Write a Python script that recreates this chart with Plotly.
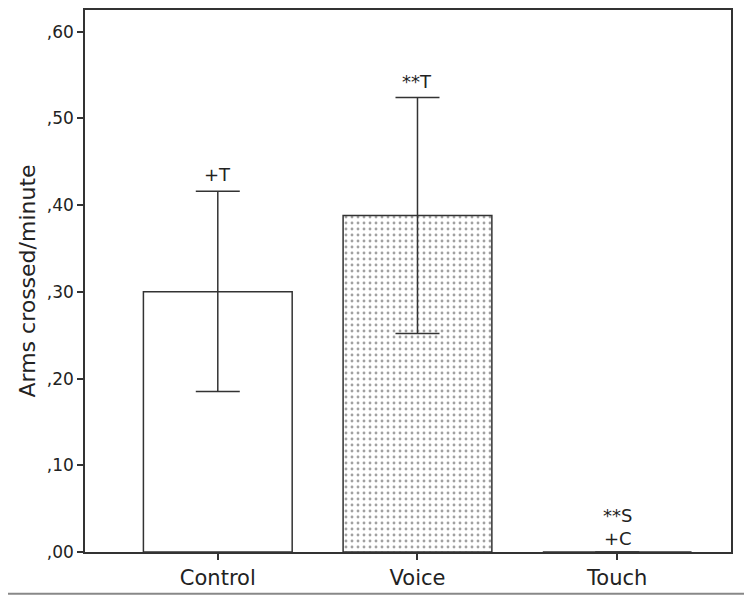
import plotly.graph_objects as go

categories = ["Control", "Voice", "Touch"]
means = [0.300, 0.388, 0.0]
err_plus = [0.116, 0.136, 0.0]
err_minus = [0.115, 0.136, 0.0]
sig_labels = ["+T", "**T", "**S<br>+C"]
tick_vals = [0.0, 0.1, 0.2, 0.3, 0.4, 0.5, 0.6]
tick_text = [",00", ",10", ",20", ",30", ",40", ",50", ",60"]

FONT = "DejaVu Sans"
fills = ["white", "white", "white"]
patterns = ["", ".", ""]

fig = go.Figure()
fig.add_trace(go.Bar(
    x=[0, 1, 2], y=means, width=0.745,
    marker=dict(color=fills, line=dict(color="#333333", width=1.5),
                pattern=dict(shape=patterns, fgcolor="#8a8a8a", bgcolor="white",
                             size=6, solidity=0.18)),
    error_y=dict(type="data", symmetric=False, array=err_plus, arrayminus=err_minus,
                 color="#333333", thickness=1.5, width=22),
    showlegend=False,
))

for i, (lab, m, e) in enumerate(zip(sig_labels, means, err_plus)):
    fig.add_annotation(x=i, y=m + e, text=lab, showarrow=False, xref="x", yref="y",
                       yanchor="bottom", yshift=4 if m > 0 else 1,
                       font=dict(family=FONT, size=18, color="#222222"))

fig.add_shape(type="line", xref="paper", yref="paper", x0=-0.2, x1=1.2, y0=-0.0772, y1=-0.0772,
              line=dict(color="#888888", width=2))

fig.update_layout(
    width=744, height=590,
    margin=dict(l=77, r=21, t=0, b=46),
    paper_bgcolor="white", plot_bgcolor="white",
    font=dict(family=FONT, color="#222222"),
    xaxis=dict(range=[-0.665, 2.57], tickvals=[0, 1, 2], ticktext=categories,
               ticks="outside", ticklen=6, tickcolor="#333333", tickwidth=1.5,
               showline=True, linecolor="#333333", linewidth=1.5, mirror=True,
               showgrid=False, zeroline=False, tickfont=dict(size=21, family=FONT)),
    yaxis=dict(range=[0, 0.625], tickvals=tick_vals, ticktext=tick_text,
               ticks="outside", ticklen=6, tickcolor="#333333", tickwidth=1.5,
               showline=True, linecolor="#333333", linewidth=1.5, mirror=True,
               showgrid=False, zeroline=False, tickfont=dict(size=17, family=FONT),
               title=dict(text="Arms crossed/minute", font=dict(size=22, family=FONT), standoff=5)),
)

fig.write_html("out.html")
